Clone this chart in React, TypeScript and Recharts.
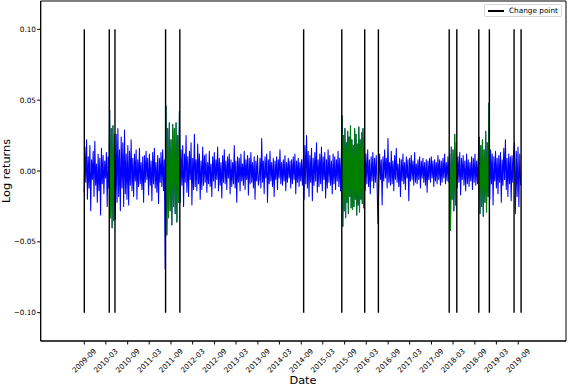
import React from 'react';
import { LineChart, Line, XAxis, YAxis, ReferenceLine, ReferenceArea } from 'recharts';

// Log returns, in units of 0.001, read segment by segment between change points
const seg0 = [-15, 17, -8, 22, -20, 10, -12, 18, -28, 8, -6, 14, -18, 21, -10, 5, -22, 12, -14, 9, -31, 16, -9, 11, -16, 7, -5, 13, -25, 10, -12];
const seg1 = [43, -33, 30, -40, 32, -35, 26];
const seg2 = [-34, 26, -22, 30, -18, 15, -28, 24, -12, 20, -25, 29, -16, 12, -20, 18, -24, 14, -10, 22, -14, 9, -18, 12, -7, 15, -20, 8, -11, 16, -9, 6, -13, 10, -22, 11, -8, 14, -6, 9, -17, 12, -10, 7, -21, 13, -9, 16, -12, 6, -15, 11, -23, 9, -8, 13, -11, 15, -14, 8, -69];
const seg3 = [46, -45, 30, -33, 34, -28, 22, -38, 33, -25, 30, -30, 34, -36, 25, -22, 42];
const seg4 = [-22, 15, -10, 18, -25, 12, -8, 25, -15, 10, -18, 14, -6, 20, -24, 9, -13, 26, -11, 8, -14, 19, -9, 12, -20, 7, -13, 17, -10, 11,
  -8, 12, -15, 6, -9, 14, -11, 5, -18, 10, -7, 13, -12, 8, -6, 17, -14, 9, -10, 6, -19, 11, -8, 15, -9, 7, -13, 10, -5, 12, -16, 8, -11, 6, -9, 18, -12, 7, -22, 10, -8, 9, -14, 12, -7, 5, -10, 14, -13, 8, -6, 11, -17, 9, -9, 13, -8, 6, -12, 10, -20, 7, -7, 11, -10,
  -6, 9, -12, 23, -8, 7, -16, 10, -5, 12, -22, 8, -9, 14, -7, 6, -11, 9, -18, 7, -6, 10, -13, 8, -5, 15, -9, 6, -10, 8, -7, 11, -14, 6, -8, 9, -5, 7, -12, 8, -9, 10, -6, 12, -16, 7, -8, 9, -11, 6, -7, 8, -10, 9];
const seg5 = [-20, 18, -9, 25, -12, 14, -18, 11, -8, 16, -21, 9, -10, 13, -7, 20, -15, 8, -11, 12, -9, 17, -14, 10, -6, 13, -19, 8, -12, 15, -8, 11, -10, 7, -16, 12, -9, 10, -13, 8, -7, 14, -11, 9, -14, 11];
const seg6 = [39, -39, 25, -28, 30, -33, 20, -22, 28, -30, 24, -18, 32, -26, 22, -27, 18, -25, 30, -20, 26, -31, 19, -24, 31, -29, 22, -20, 27, -23, 30, -26, 24];
const seg7 = [-14, 12, -9, 15, -11, 8, -16, 10, -7, 13, -12, 9, -8, 11, -10, -37];
const seg8 = [-10, 12, -6, 8, -24, 10, -7, 15, -5, 9, -12, 23, -8, 6, -10, 14, -9, 7, -14, 11, -6, 16, -8, 5, -11, 9, -18, 8, -7, 12, -9, 6, -13, 10, -5, 8, -21, 9, -7, 11, -6, 7, -10, 13, -8, 5, -9, 8, -6, 10, -12, 7, -5, 9, -8, 6, -10, 8, -15, 7, -6, 9, -8, 10, -5, 7, -11, 8, -7, 6, -9, 11, -6, 8, -10, 7, -8, 9, -5, 12, -9, 6, -7, 10, -8];
const seg9 = [12, -42, 17, -20, 15, -28, 26, -24, 20];
const seg10 = [-12, 10, -8, 13, -17, 9, -6, 11, -10, 7, -14, 12, -9, 8, -11, 6, -7, 10, -13, 9, -8, 12, -10, 7, -9, 11];
const seg11 = [24, -30, 18, -25, 22, -32, 15, -22, 28, -29, 20, -18, 48];
const seg12 = [-20, 15, -9, 12, -24, 10, -7, 14, -12, 9, -16, 11, -8, 13, -22, 8, -10, 16, -6, 22, -13, 9, -18, 12, -9, 10, -21, 11, -8, 14];
const seg13 = [20, -30, 14, -18, 17, -25, 12, -10];

const segments = [seg0, seg1, seg2, seg3, seg4, seg5, seg6, seg7, seg8, seg9, seg10, seg11, seg12, seg13];
const regimes = ['blue', 'green', 'blue', 'green', 'blue', 'blue', 'green', 'blue', 'blue', 'green', 'blue', 'green', 'blue', 'blue'];

const dataStart = '2009-08-27';
const changePoints = ['2009-09-01', '2010-03-30', '2010-05-17', '2011-07-17', '2011-11-14', '2014-09-21', '2015-08-08', '2016-02-17', '2016-06-11', '2018-01-28', '2018-04-02', '2018-10-04', '2019-01-01', '2019-07-28', '2019-09-25'];

const tickLabels = ['2009-09', '2010-03', '2010-09', '2011-03', '2011-09', '2012-03', '2012-09', '2013-03', '2013-09', '2014-03', '2014-09', '2015-03', '2015-09', '2016-03', '2016-09', '2017-03', '2017-09', '2018-03', '2018-09', '2019-03', '2019-09'];
const yTicks = [-0.1, -0.05, 0, 0.05, 0.1];
const xDomain = ['2008-08-30', '2020-10-07'];

const toMs = (d: string) => Date.parse(d + (d.length === 7 ? '-01' : '') + 'T00:00:00Z');

const bounds = [dataStart, ...changePoints.slice(1)].map(toMs);
const data: { t: number; v: number; g: number | null }[] = [];
segments.forEach((vals, i) => {
  const a = bounds[i];
  const b = bounds[i + 1];
  vals.forEach((val, j) => {
    const t = a + ((b - a) * (j + 0.5)) / vals.length;
    data.push({ t, v: val / 1000, g: regimes[i] === 'green' ? val / 1000 : null });
  });
});

const tickValues = tickLabels.map(toMs);
const FONT = 'DejaVu Sans';

const XTick = (props: any) => {
  const { x, payload } = props;
  const idx = tickValues.indexOf(payload.value);
  const label = idx >= 0 ? tickLabels[idx] : '';
  const cy = 360.7;
  return (
    <text
      x={x}
      y={cy}
      textAnchor="middle"
      dominantBaseline="central"
      fontSize={7.3}
      fontFamily={FONT}
      fill="#000"
      transform={`rotate(-45, ${x}, ${cy})`}
    >
      {label}
    </text>
  );
};

const fmtY = (v: number) => (v < 0 ? '\u2212' + Math.abs(v).toFixed(2) : v.toFixed(2));

export default function App() {
  const dom = xDomain.map(toMs);
  return (
    <div style={{ position: 'absolute', left: 0, top: 0, width: 568, height: 386, background: '#fff', fontFamily: FONT }}>
      <LineChart width={568} height={386} data={data} margin={{ top: 1, right: 2, left: 0, bottom: 0 }}>
        <XAxis
          dataKey="t"
          type="number"
          domain={dom}
          allowDataOverflow
          ticks={tickValues}
          tick={<XTick />}
          tickSize={3.5}
          height={45}
          stroke="#000"
          interval={0}
        />
        <YAxis
          type="number"
          domain={[-0.12, 0.12]}
          ticks={yTicks}
          tickFormatter={fmtY}
          tick={{ fontSize: 7.3, fill: '#000', fontFamily: FONT }}
          tickSize={3.5}
          tickMargin={1.2}
          width={40.7}
          stroke="#000"
          allowDataOverflow
        />
        <Line dataKey="v" stroke="#0000ff" strokeWidth={1.05} dot={false} activeDot={false} isAnimationActive={false} strokeLinejoin="round" />
        <Line dataKey="g" stroke="#008000" strokeWidth={1.05} dot={false} activeDot={false} isAnimationActive={false} connectNulls={false} strokeLinejoin="round" />
        {changePoints.map((d) => (
          <ReferenceLine
            key={d}
            segment={[{ x: toMs(d), y: -0.1 }, { x: toMs(d), y: 0.1 }]}
            stroke="#000"
            strokeWidth={1.4}
          />
        ))}
        <ReferenceArea x1={dom[0]} x2={dom[1]} y1={-0.12} y2={0.12} fill="none" fillOpacity={0} stroke="#000" strokeWidth={1} />
      </LineChart>
      <div style={{ position: 'absolute', left: 0, top: 171, width: 14, height: 0 }}>
        <div style={{ position: 'absolute', left: 6, top: 0, transform: 'translate(-50%, -50%) rotate(-90deg)', fontSize: 11.3, whiteSpace: 'nowrap', color: '#000', lineHeight: '13px' }}>
          Log returns
        </div>
      </div>
      <div style={{ position: 'absolute', left: 303, top: 380, transform: 'translate(-50%, -50%)', fontSize: 11.3, whiteSpace: 'nowrap', color: '#000', lineHeight: '13px' }}>
        Date
      </div>
      <div style={{ position: 'absolute', left: 484, top: 4, width: 78, height: 13, border: '1px solid #d6d6d6', borderRadius: 2, background: 'rgba(255,255,255,0.8)', boxSizing: 'border-box' }}>
        <div style={{ position: 'absolute', left: 3, top: 5, width: 16, height: 1.5, background: '#000' }} />
        <div style={{ position: 'absolute', left: 24, top: 0, fontSize: 7.3, lineHeight: '11px', whiteSpace: 'nowrap', color: '#000' }}>
          Change point
        </div>
      </div>
    </div>
  );
}
